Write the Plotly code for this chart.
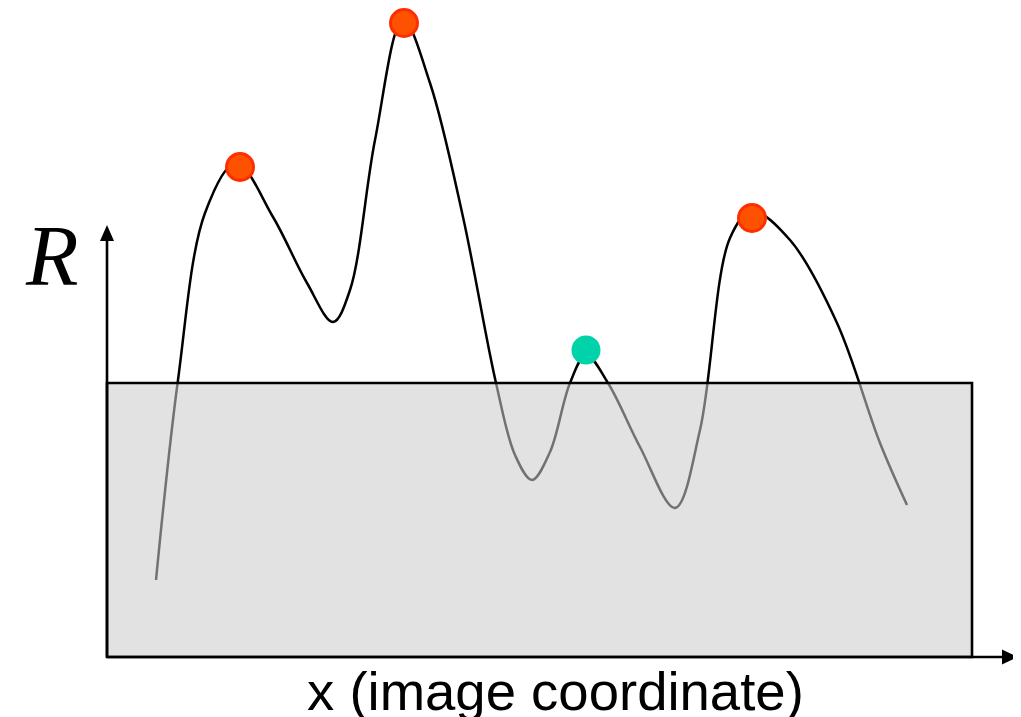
import plotly.graph_objects as go

# Curve samples: x (image coordinate) and response R
curve_x = [49, 71, 98, 129, 166, 200, 226, 243, 268, 296, 323, 356, 389, 408, 425,
           443, 463, 479, 501, 533, 568, 593, 623, 645, 683, 730, 773, 800]
curve_r = [77, 277, 444, 494, 440, 374, 335, 367, 517, 637, 574, 440, 274, 202, 177,
           205, 274, 302, 274, 210, 149, 227, 419, 446, 417, 334, 214, 152]

# Local maxima above threshold (red) and below threshold band edge (green)
peak_x = [133, 297, 645]
peak_r = [490, 634, 439]
weak_x = [479]
weak_r = [307]

threshold = 274
x_extent = 865
x_axis_len = 911
y_axis_len = 432

fig = go.Figure()
fig.add_trace(go.Scatter(x=curve_x, y=curve_r, mode="lines",
                         line=dict(color="black", width=2.5, shape="spline", smoothing=1.0,
                                   simplify=False),
                         hoverinfo="skip", showlegend=False))
fig.add_trace(go.Scatter(x=peak_x, y=peak_r, mode="markers",
                         marker=dict(size=27, color="#ff5200", line=dict(color="#ff2e00", width=3)),
                         showlegend=False))
fig.add_trace(go.Scatter(x=weak_x, y=weak_r, mode="markers",
                         marker=dict(size=29, color="#00d3aa", line=dict(width=0)),
                         showlegend=False))

shapes = [
    dict(type="rect", x0=0, x1=x_extent, y0=0, y1=threshold, xref="x", yref="y",
         fillcolor="rgba(203,203,203,0.56)", line=dict(color="black", width=2.6), layer="above"),
    dict(type="line", x0=0, x1=x_axis_len - 14, y0=0, y1=0, xref="x", yref="y",
         line=dict(color="black", width=2.6), layer="above"),
    dict(type="line", x0=0, x1=0, y0=0, y1=y_axis_len - 14, xref="x", yref="y",
         line=dict(color="black", width=2.6), layer="above"),
    dict(type="path", xref="x", yref="y", layer="above",
         path=f"M {x_axis_len} 0 L {x_axis_len-16} 7.5 L {x_axis_len-16} -7.5 Z",
         fillcolor="black", line=dict(color="black", width=0)),
    dict(type="path", xref="x", yref="y", layer="above",
         path=f"M 0 {y_axis_len} L -7 {y_axis_len-16} L 7 {y_axis_len-16} Z",
         fillcolor="black", line=dict(color="black", width=0)),
]

annotations = [
    dict(x=-55, y=401, xref="x", yref="y", text="<i>R</i>", showarrow=False,
         font=dict(family="Liberation Serif", size=86, color="black"),
         xanchor="center", yanchor="middle"),
    dict(x=448, y=-34, xref="x", yref="y", text="x (image coordinate)", showarrow=False,
         font=dict(family="Liberation Sans", size=54.5, color="black"),
         xanchor="center", yanchor="middle"),
]

fig.update_layout(
    width=1021, height=717,
    margin=dict(l=0, r=0, t=0, b=0),
    paper_bgcolor="white", plot_bgcolor="white",
    xaxis=dict(range=[-99, 922], visible=False, fixedrange=True),
    yaxis=dict(range=[-68, 649], visible=False, fixedrange=True),
    shapes=shapes, annotations=annotations,
    showlegend=False,
)

fig.write_html("out.html")
